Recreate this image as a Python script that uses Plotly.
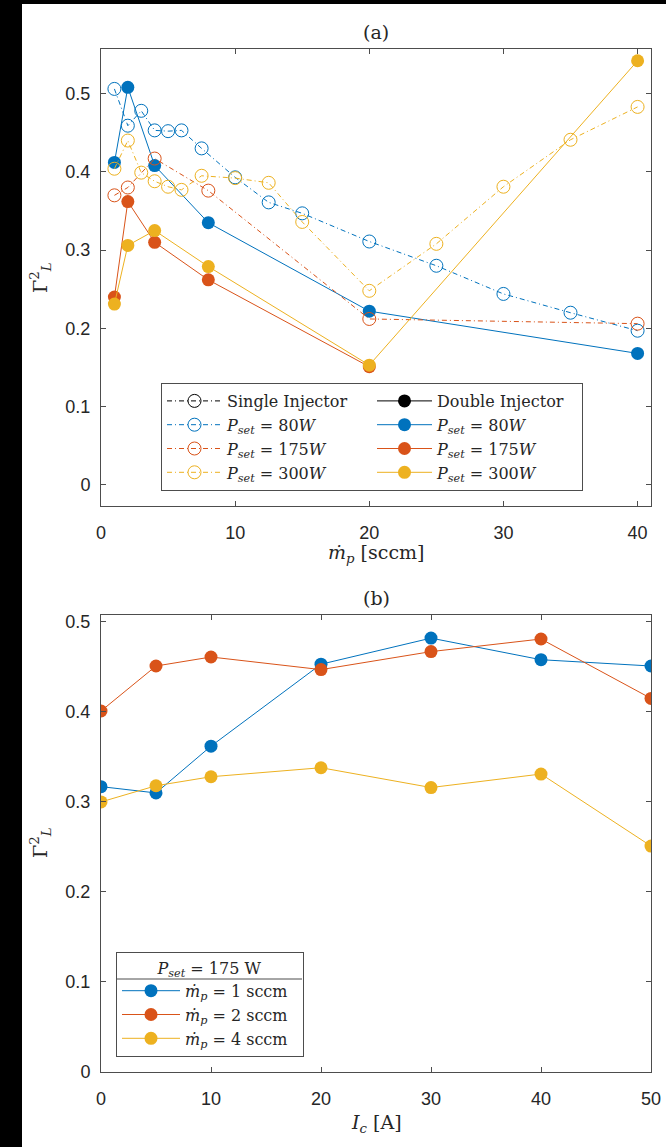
import plotly.graph_objects as go

# ---------------- data (a) ----------------
x_single = [1, 2, 3, 4, 5, 6, 7.5, 10, 12.5, 15, 20, 25, 30, 35, 40]
single_80 = [0.506, 0.459, 0.478, 0.453, 0.452, 0.453, 0.430, 0.393, 0.361, 0.347, 0.311, 0.280, 0.244, 0.220, 0.197]
single_300 = [0.404, 0.440, 0.399, 0.388, 0.381, 0.377, 0.395, 0.392, 0.386, 0.336, 0.248, 0.308, 0.381, 0.441, 0.483]
x_single_175 = [1, 2, 4, 8, 20, 40]
single_175 = [0.370, 0.380, 0.417, 0.376, 0.212, 0.206]

x_double_80 = [1, 2, 4, 8, 20, 40]
double_80 = [0.412, 0.508, 0.408, 0.335, 0.222, 0.168]
x_double_175 = [1, 2, 4, 8, 20]
double_175 = [0.240, 0.362, 0.310, 0.262, 0.151]
x_double_300 = [1, 2, 4, 8, 20, 40]
double_300 = [0.231, 0.306, 0.325, 0.279, 0.153, 0.542]

# ---------------- data (b) ----------------
coil_current = [0, 5, 10, 20, 30, 40, 50]
mp_1 = [0.317, 0.310, 0.362, 0.453, 0.482, 0.458, 0.451]
mp_2 = [0.401, 0.451, 0.461, 0.447, 0.467, 0.481, 0.415]
mp_4 = [0.300, 0.318, 0.328, 0.338, 0.316, 0.331, 0.251]

ticks_a_x = [0, 10, 20, 30, 40]
ticks_b_x = [0, 10, 20, 30, 40, 50]
ticks_y = [0, 0.1, 0.2, 0.3, 0.4, 0.5]

BLUE = "#0072BD"
RED = "#D95319"
YEL = "#EDB120"
TXT = "#262626"
SERIF = "DejaVu Serif, Liberation Serif, serif"
SANS = "Liberation Sans, Arial, sans-serif"
DASHDOT = "5px,3px,1px,3px"
NB = "\u00a0"

W, H = 666, 1147
ML, MR, MT, MB = 101, 15, 49, 75
PW, PH = W - ML - MR, H - MT - MB


def xp(px):
    return (px - ML) / PW


def yp(py):
    return 1 - (py - MT) / PH


fig = go.Figure()

# legend header entries
fig.add_trace(go.Scatter(x=[None], y=[None], mode="lines+markers", name="Single Injector",
                         line=dict(color="black", width=1, dash=DASHDOT),
                         marker=dict(symbol="circle-open", size=13, color="black", line=dict(width=1)),
                         legend="legend", xaxis="x", yaxis="y"))
fig.add_trace(go.Scatter(x=[None], y=[None], mode="lines+markers", name="Double Injector",
                         line=dict(color="black", width=1),
                         marker=dict(symbol="circle", size=13, color="black"),
                         legend="legend", xaxis="x", yaxis="y"))

pairs = [
    ("80", BLUE, x_single, single_80, x_double_80, double_80),
    ("175", RED, x_single_175, single_175, x_double_175, double_175),
    ("300", YEL, x_single, single_300, x_double_300, double_300),
]
for p, c, xs, ys, xd, yd in pairs:
    lab = "<i>P</i><sub><i>set</i></sub> = %s<i>W</i>" % p
    fig.add_trace(go.Scatter(x=xs, y=ys, mode="lines+markers", name=lab,
                             line=dict(color=c, width=1, dash=DASHDOT),
                             marker=dict(symbol="circle-open", size=13, color=c, line=dict(width=1)),
                             legend="legend", xaxis="x", yaxis="y"))
    fig.add_trace(go.Scatter(x=xd, y=yd, mode="lines+markers", name=lab,
                             line=dict(color=c, width=1),
                             marker=dict(symbol="circle", size=13, color=c),
                             legend="legend", xaxis="x", yaxis="y"))

for yv, c, n in [(mp_1, BLUE, "1"), (mp_2, RED, "2"), (mp_4, YEL, "4")]:
    fig.add_trace(go.Scatter(x=coil_current, y=yv, mode="lines+markers",
                             name="<i>ṁ</i><sub><i>p</i></sub> = %s sccm" % n + NB * 2,
                             line=dict(color=c, width=1),
                             marker=dict(symbol="circle", size=13, color=c),
                             legend="legend2", xaxis="x2", yaxis="y2"))

axis_common = dict(showline=True, linecolor="#4d4d4d", linewidth=1, mirror="allticks",
                   ticks="inside", ticklen=5, tickcolor="#4d4d4d", showgrid=False, zeroline=False,
                   tickfont=dict(family=SANS, size=18, color=TXT))

fig.update_layout(
    width=W, height=H,
    margin=dict(l=ML, r=MR, t=MT, b=MB, autoexpand=False),
    paper_bgcolor="white", plot_bgcolor="white",
    xaxis=dict(domain=[0, 1], range=[0, 41], tickvals=ticks_a_x, anchor="y",
               ticklabelstandoff=10, **axis_common),
    yaxis=dict(domain=[yp(506), 1], range=[-0.027, 0.557], tickvals=ticks_y, anchor="x",
               ticklabelstandoff=6, **axis_common),
    xaxis2=dict(domain=[0, 1], range=[0, 50], tickvals=ticks_b_x, anchor="y2",
                ticklabelstandoff=10, **axis_common),
    yaxis2=dict(domain=[0, yp(614.7)], range=[0, 0.508], tickvals=ticks_y, anchor="x2",
                ticklabelstandoff=6, **axis_common),
    legend=dict(orientation="h", x=xp(161), y=yp(383), xanchor="left", yanchor="top",
                entrywidth=140, entrywidthmode="pixels",
                bgcolor="white", bordercolor="#4d4d4d", borderwidth=1,
                font=dict(family=SERIF, size=16, color=TXT), itemwidth=55),
    legend2=dict(orientation="v", x=xp(116), y=yp(952), xanchor="left", yanchor="top",
                 bgcolor="rgba(255,255,255,0)", bordercolor="#4d4d4d", borderwidth=1,
                 font=dict(family=SERIF, size=16, color=TXT), itemwidth=58,
                 title=dict(text="<i>P</i><sub><i>set</i></sub> = 175 W", side="top center",
                            font=dict(family=SERIF, size=16, color=TXT))),
    showlegend=True,
)

ann_font = dict(family=SERIF, size=19, color=TXT)
annots = [
    ("(a)", 376, 32, 0),
    ("<i>ṁ</i><sub><i>p</i></sub> [sccm]", 376, 553, 0),
    ("(b)", 376, 598, 0),
    ("<i>I</i><sub><i>c</i></sub> [A]", 376, 1123, 0),
    ("Γ<sup>2</sup><sub><i>L</i></sub>", 40, 278, -90),
    ("Γ<sup>2</sup><sub><i>L</i></sub>", 40, 843, -90),
]
for t, px, py, ang in annots:
    fig.add_annotation(text=t, x=xp(px), y=yp(py), xref="paper", yref="paper",
                       showarrow=False, xanchor="center", yanchor="middle",
                       textangle=ang, font=ann_font)

# black border strips of the scanned page and legend title separator
fig.add_shape(type="rect", xref="paper", yref="paper", x0=xp(0), x1=xp(22), y0=yp(0), y1=yp(H),
              fillcolor="black", line=dict(width=0), layer="above")
fig.add_shape(type="rect", xref="paper", yref="paper", x0=xp(0), x1=xp(W), y0=yp(0), y1=yp(4),
              fillcolor="black", line=dict(width=0), layer="above")
fig.add_shape(type="line", xref="paper", yref="paper", x0=xp(116), x1=xp(302), y0=yp(979), y1=yp(979),
              line=dict(color="#4d4d4d", width=1), layer="above")

fig.write_html("out.html")
